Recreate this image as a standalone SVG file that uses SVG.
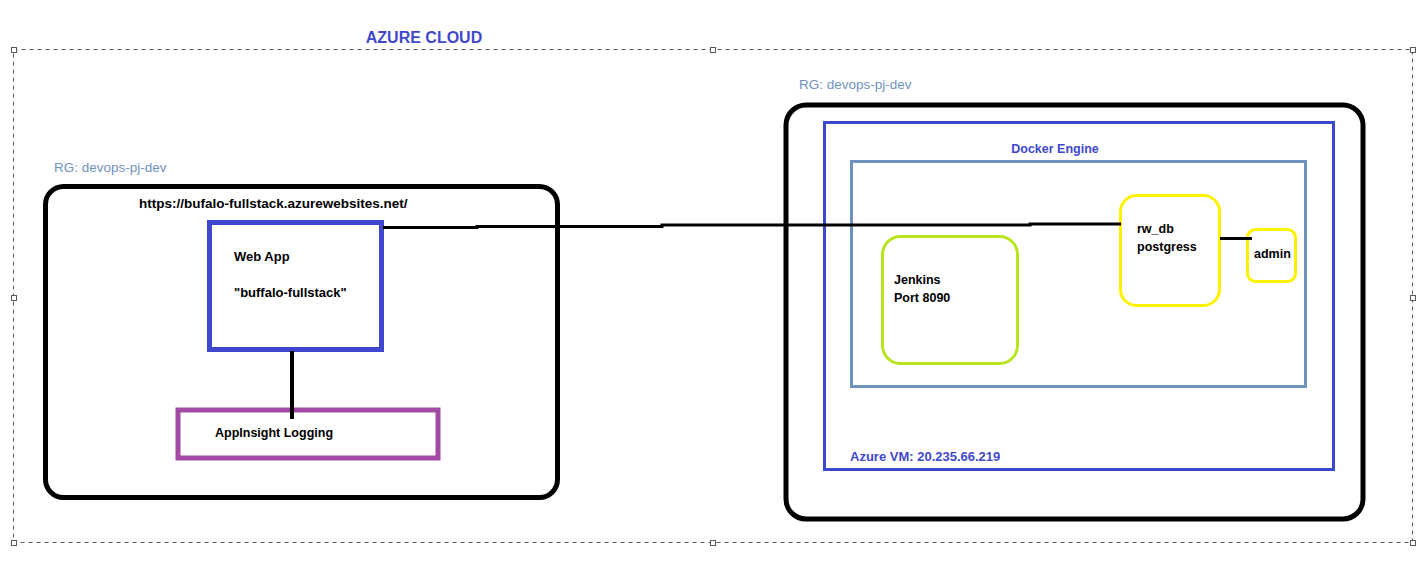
<svg xmlns="http://www.w3.org/2000/svg" width="1427" height="563" viewBox="0 0 1427 563">
<style>
text { font-family: "Liberation Sans", Arial, sans-serif; font-weight: bold; }
.t { font-size: 12.5px; fill: #000; }
.blue { fill: #3f48cc; }
.rg { font-size: 13.5px; fill: #7092be; font-weight: normal; }
.handle { fill: #fff; stroke: #595959; stroke-width: 1; }
.conn { stroke: #000; fill: none; }
</style>
<rect width="1427" height="563" fill="#fff"/>
<g id="azure-cloud">
  <rect x="13.5" y="49.5" width="1399" height="493" fill="none" stroke="#595959" stroke-width="1" stroke-dasharray="4,4"/>
  <rect class="handle" x="11.5" y="47.5" width="5" height="5"/>
  <rect class="handle" x="710.5" y="47.5" width="5" height="5"/>
  <rect class="handle" x="1410.5" y="47.5" width="5" height="5"/>
  <rect class="handle" x="11.5" y="295.5" width="5" height="5"/>
  <rect class="handle" x="1410.5" y="295.5" width="5" height="5"/>
  <rect class="handle" x="11.5" y="540.5" width="5" height="5"/>
  <rect class="handle" x="710.5" y="540.5" width="5" height="5"/>
  <rect class="handle" x="1410.5" y="540.5" width="5" height="5"/>
  <text x="424" y="43" class="blue" font-size="16" text-anchor="middle">AZURE CLOUD</text>
</g>
<g id="rg-left">
  <text x="54" y="172" class="rg">RG: devops-pj-dev</text>
  <rect x="45.5" y="186.5" width="512" height="311" rx="18" fill="none" stroke="#000" stroke-width="5"/>
  <text x="139" y="208" class="t" style="font-size:13.5px">https://bufalo-fullstack.azurewebsites.net/</text>
</g>
<g id="web-app">
  <rect x="209.5" y="222.5" width="172" height="127" fill="none" stroke="#3f48cc" stroke-width="5"/>
  <text x="234" y="261" class="t" style="font-size:13px">Web App</text>
  <text x="234" y="297" class="t" style="font-size:13px">"buffalo-fullstack"</text>
</g>
<g id="appinsight">
  <rect x="178" y="410" width="260" height="48" fill="none" stroke="#a349a4" stroke-width="5"/>
  <text x="215" y="437" class="t">AppInsight Logging</text>
</g>
<g id="rg-right">
  <text x="799" y="89" class="rg">RG: devops-pj-dev</text>
  <rect x="786" y="105" width="577" height="414" rx="20" fill="none" stroke="#000" stroke-width="5"/>
</g>
<g id="azure-vm">
  <rect x="824.5" y="122.5" width="509" height="347" fill="none" stroke="#3f48cc" stroke-width="3"/>
  <text x="850" y="461" class="blue" font-size="13">Azure VM: 20.235.66.219</text>
</g>
<g id="docker-engine">
  <rect x="851.5" y="161.5" width="454" height="225" fill="none" stroke="#7092be" stroke-width="3"/>
  <text x="1055" y="153" class="blue" font-size="12.5" text-anchor="middle">Docker Engine</text>
</g>
<g id="jenkins">
  <rect x="882.5" y="236.5" width="135" height="127" rx="18" fill="none" stroke="#b5e61d" stroke-width="3"/>
  <text x="894" y="284" class="t">Jenkins</text>
  <text x="894" y="302" class="t">Port 8090</text>
</g>
<g id="rw-db">
  <rect x="1120.5" y="195.5" width="99" height="110" rx="16" fill="none" stroke="#fff200" stroke-width="3"/>
  <text x="1137" y="233" class="t">rw_db</text>
  <text x="1137" y="251" class="t">postgress</text>
</g>
<g id="admin">
  <rect x="1247.5" y="229.5" width="48" height="52" rx="8" fill="none" stroke="#fff200" stroke-width="3"/>
  <text x="1254" y="258" class="t">admin</text>
</g>
<g id="connectors">
  <polyline class="conn" stroke-width="3" points="383,227.5 477,227.5 477,226.5 662,226.5 662,225 1030,225 1030,224 1121,224"/>
  <line class="conn" x1="292" y1="351" x2="292" y2="419" stroke-width="4"/>
  <line class="conn" x1="1220" y1="238.5" x2="1252" y2="238.5" stroke-width="3"/>
</g>
</svg>
